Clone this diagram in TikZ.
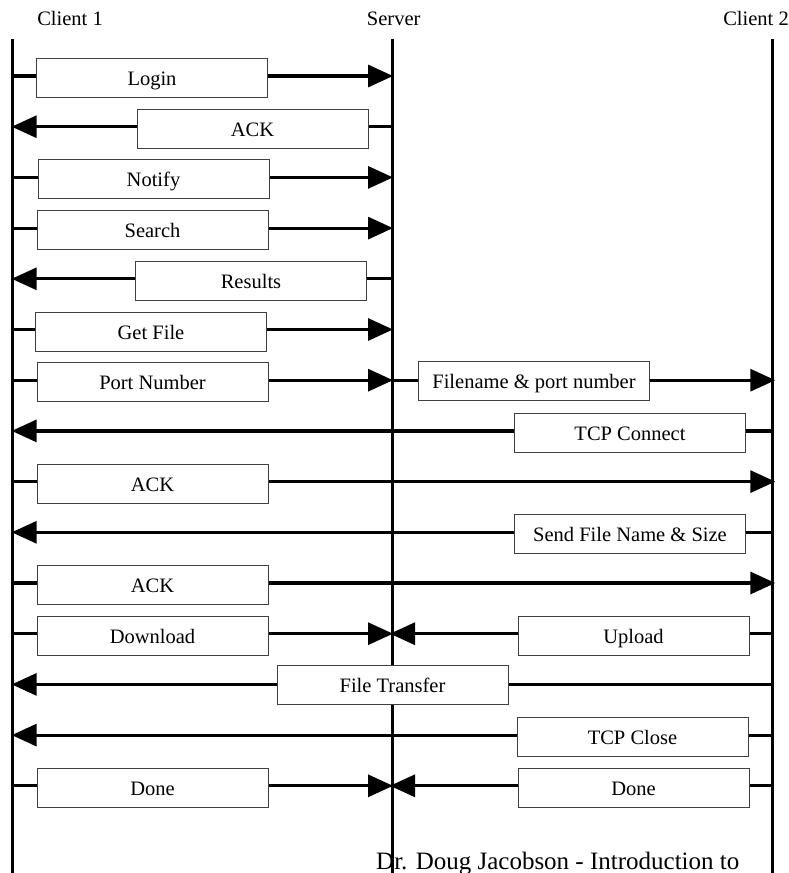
\documentclass[tikz,border=0pt]{standalone}
\usepackage{fontspec}
\setmainfont{Liberation Serif}
\usetikzlibrary{arrows.meta}
\begin{document}
\begin{tikzpicture}[x=1pt,y=-1pt,
  life/.style={line width=3pt},
  msg/.style={line width=3.2pt,-{Triangle[length=25pt,width=22pt]}},
  msgbox/.style={draw=black!75,line width=0.9pt,fill=white,minimum width=231pt,
    minimum height=39pt,inner sep=0pt,text height=15pt,text depth=0pt,
    font=\fontsize{20.5}{24}\selectfont},
  head/.style={font=\fontsize{20.5}{24}\selectfont,anchor=base,inner sep=0pt}]
\useasboundingbox (0,0) rectangle (788,873);
% headings
\node[head] (h1) at (70,25) {Client 1};
\node[head] (hs) at (393.7,25) {Server};
\node[head] (h2) at (756,25) {Client 2};
% lifelines
\coordinate (c1top) at (12.7,39);
\coordinate (c1bot) at (12.7,880);
\coordinate (stop) at (392,39);
\coordinate (sbot) at (392,880);
\coordinate (c2top) at (772.3,39);
\coordinate (c2bot) at (772.3,880);
\draw[life] (c1top) -- (c1bot);
\draw[life] (stop) -- (sbot);
\draw[life] (c2top) -- (c2bot);
% row coordinates
\foreach \k in {0,...,14}{
  \pgfmathsetmacro\yy{76+50.7*\k}
  \coordinate (a\k) at (12.7,\yy);
  \coordinate (s\k) at (392,\yy);
  \coordinate (c\k) at (772.3,\yy);
}
% messages
\draw[msg] (a0) -- ([xshift=1pt]s0);
\draw[msg] (s1) -- ([xshift=-1pt]a1);
\draw[msg] (a2) -- ([xshift=1pt]s2);
\draw[msg] (a3) -- ([xshift=1pt]s3);
\draw[msg] (s4) -- ([xshift=-1pt]a4);
\draw[msg] (a5) -- ([xshift=1pt]s5);
\draw[msg] (a6) -- ([xshift=1pt]s6);
\draw[msg] (s6) -- ([xshift=3pt]c6);
\draw[msg] (c7) -- ([xshift=-1pt]a7);
\draw[msg] (a8) -- ([xshift=3pt]c8);
\draw[msg] (c9) -- ([xshift=-1pt]a9);
\draw[msg] (a10) -- ([xshift=3pt]c10);
\draw[msg] (a11) -- ([xshift=1pt]s11);
\draw[msg] (c11) -- ([xshift=-2pt]s11);
\draw[msg] (c12) -- ([xshift=-1pt]a12);
\draw[msg] (c13) -- ([xshift=-1pt]a13);
\draw[msg] (a14) -- ([xshift=1pt]s14);
\draw[msg] (c14) -- ([xshift=-2pt]s14);
% boxes
\node[msgbox] (login)    at (152,78)      {Login};
\node[msgbox] (ack1)     at (252.5,128.7) {ACK};
\node[msgbox] (notify)   at (153.5,179.4) {Notify};
\node[msgbox] (search)   at (152.5,230.1) {Search};
\node[msgbox] (results)  at (251,280.8)   {Results};
\node[msgbox] (getfile)  at (151,331.5)   {Get File};
\node[msgbox] (portnum)  at (152.5,382.2) {Port Number};
\node[msgbox] (fnport)   at (534,381.2)   {Filename \& port number};
\node[msgbox] (tcpconn)  at (630,432.9)   {TCP Connect};
\node[msgbox] (ack2)     at (152.5,483.6) {ACK};
\node[msgbox] (sendfile) at (630,534.3)   {Send File Name \& Size};
\node[msgbox] (ack3)     at (152.5,585)   {ACK};
\node[msgbox] (download) at (152.5,635.7) {Download};
\node[msgbox] (upload)   at (633.5,635.7) {Upload};
\node[msgbox] (ftrans)   at (392.5,685.4) {File Transfer};
\node[msgbox] (tcpclose) at (632.5,737.1) {TCP Close};
\node[msgbox] (done1)    at (152.5,787.8) {Done};
\node[msgbox] (done2)    at (633.5,787.8) {Done};
% footer
\node[anchor=base west,inner sep=0pt,font=\fontsize{25}{30}\selectfont] (foot) at (376,869) {Dr. Doug Jacobson - Introduction to};
\end{tikzpicture}
\end{document}
